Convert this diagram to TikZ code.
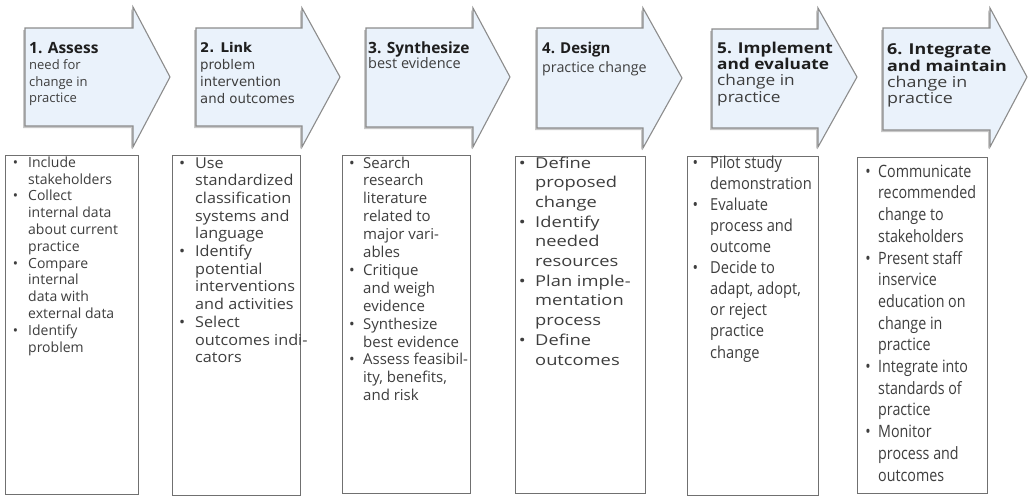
\documentclass[tikz,border=0pt]{standalone}
\usepackage{fontspec}
\usepackage{graphicx}
\setmainfont{Open Sans}
\newfontfamily\dejavufam{DejaVu Sans}
\newfontfamily\fcA{Open Sans}
\newfontfamily\fcB{Open Sans}[FakeStretch=1.08]
\newfontfamily\fcC{Open Sans}
\newfontfamily\fcD{Open Sans}[FakeStretch=1.22]
\newfontfamily\fcE{Open Sans}[FakeStretch=0.89]
\newfontfamily\fcF{Open Sans}[FakeStretch=0.84]
\newfontfamily\faW{Open Sans}[FakeStretch=1.15]
\newfontfamily\faX{Open Sans}[FakeStretch=1.19]
\definecolor{arrowfill}{HTML}{EAF2FB}
\definecolor{arrowline}{HTML}{8C8C8C}
\definecolor{boxline}{HTML}{707070}
\definecolor{bodytext}{HTML}{3E3E3E}
\definecolor{titletext}{HTML}{1E1E1E}
\definecolor{shadowgray}{HTML}{C8C8C8}
\newlength{\bugap}
\newcommand{\bu}{\llap{\textbullet\hspace{\bugap}}}
\newcommand{\ttl}[2]{{\color{titletext}\fontsize{#1}{16}\selectfont\bfseries #2}}
\begin{document}
\begin{tikzpicture}[x=1pt,y=-1pt,
  arrowshape/.style={fill=arrowfill, draw=arrowline, line width=1.1pt, line join=miter},
  arrowshadow/.style={fill=shadowgray},
  listbox/.style={draw=boxline, line width=1.3pt, fill=white, inner sep=0pt, anchor=north west},
  boxtext/.style={anchor=base west, inner sep=0pt, align=left, text=bodytext},
  arrowtext/.style={anchor=base west, inner sep=0pt, align=left, text=bodytext}]
\useasboundingbox (0,0) rectangle (1029,498);
\fill[white] (0,0) rectangle (1029,498);

% ---- arrows ----
\foreach \l/\t/\b/\h/\ht/\hb/\tx/\ty in {
   25/28/126/133/7/147/170/77,
   196/28/126/302/8/147/340/77,
   366/28/127/473/8/147/510/77,
   537/28/128/643/8/148/682/78,
   712/29/128/818/8/147/857/77,
   883/28/130/990/8/147/1027/77}{
  \fill[arrowshadow] (\l-2,\t+2) -- (\h-2,\t+2) -- (\h-2,\ht+2) -- (\tx-2,\ty+2) -- (\h-2,\hb+2) -- (\h-2,\b+2) -- (\l-2,\b+2) -- cycle;
  \draw[arrowshape] (\l,\t) -- (\h,\t) -- (\h,\ht) -- (\tx,\ty) -- (\h,\hb) -- (\h,\b) -- (\l,\b) -- cycle;
}

% text nodes are anchored at the baseline of their last line
\node[arrowtext, font=\fontsize{13}{16.5}\selectfont] (h1) at (29,102.5)
  {\ttl{15.5}{1. Assess}\\need for\\change in\\practice};
\node[arrowtext, font=\dejavufam\fontsize{13.3}{16.7}\selectfont] (h2) at (200,103)
  {\ttl{13.3}{2. Link}\\problem\\intervention\\and outcomes};
\node[arrowtext, font=\fontsize{14.5}{15.5}\selectfont] (h3) at (368,68.5)
  {\ttl{15.5}{3. Synthesize}\\best evidence};
\node[arrowtext, font=\fontsize{14.3}{19.5}\selectfont] (h4) at (542,72.5)
  {\ttl{15}{4. Design}\\practice change};
\node[arrowtext, font=\faW\fontsize{15}{16.3}\selectfont] (h5) at (717,102)
  {\ttl{15}{5. Implement}\\\ttl{15}{and evaluate}\\change in\\practice};
\node[arrowtext, font=\faX\fontsize{15}{16.2}\selectfont] (h6) at (887,103.5)
  {\ttl{15}{6. Integrate}\\\ttl{15}{and maintain}\\change in\\practice};

% ---- boxes ----
\node[listbox, minimum width=133pt, minimum height=339pt] (b1) at (5,155) {};
\node[listbox, minimum width=128pt, minimum height=340pt] (b2) at (172,155) {};
\node[listbox, minimum width=128pt, minimum height=338pt] (b3) at (342,155) {};
\node[listbox, minimum width=130pt, minimum height=337pt] (b4) at (515,156) {};
\node[listbox, minimum width=131pt, minimum height=339pt] (b5) at (687,156) {};
\node[listbox, minimum width=130pt, minimum height=336pt] (b6) at (857,157) {};

\node[boxtext, font=\fcA\fontsize{14}{16.8}\selectfont\setlength{\bugap}{10pt}] (l1) at (28,352)
  {\bu Include\\stakeholders\\\bu Collect\\internal data\\about current\\practice\\\bu Compare\\internal\\data with\\external data\\\bu Identify\\problem};
\node[boxtext, font=\fcB\fontsize{15}{17.7}\selectfont\setlength{\bugap}{10pt}] (l2) at (195,362.7)
  {\bu Use\\standardized\\classification\\systems and\\language\\\bu Identify\\potential\\interventions\\and activities\\\bu Select\\outcomes indi-\\cators};
\node[boxtext, font=\fcC\fontsize{15}{17.9}\selectfont\setlength{\bugap}{8.5pt}] (l3) at (363,400.7)
  {\bu Search\\research\\literature\\related to\\major vari-\\ables\\\bu Critique\\and weigh\\evidence\\\bu Synthesize\\best evidence\\\bu Assess feasibil-\\ity, benefits,\\and risk};
\node[boxtext, font=\fcD\fontsize{15}{19.7}\selectfont\setlength{\bugap}{9.5pt}] (l4) at (535,365)
  {\bu Define\\proposed\\change\\\bu Identify\\needed\\resources\\\bu Plan imple-\\mentation\\process\\\bu Define\\outcomes};
\node[boxtext, font=\fcE\fontsize{16.5}{21.1}\selectfont\setlength{\bugap}{12pt}] (l5) at (710,358)
  {\bu Pilot study\\demonstration\\\bu Evaluate\\process and\\outcome\\\bu Decide to\\adapt, adopt,\\or reject\\practice\\change};
\node[boxtext, font=\fcF\fontsize{17}{21.7}\selectfont\setlength{\bugap}{7.5pt}] (l6) at (878,481)
  {\bu Communicate\\recommended\\change to\\stakeholders\\\bu Present staff\\inservice\\education on\\change in\\practice\\\bu Integrate into\\standards of\\practice\\\bu Monitor\\process and\\outcomes};
\end{tikzpicture}
\end{document}
